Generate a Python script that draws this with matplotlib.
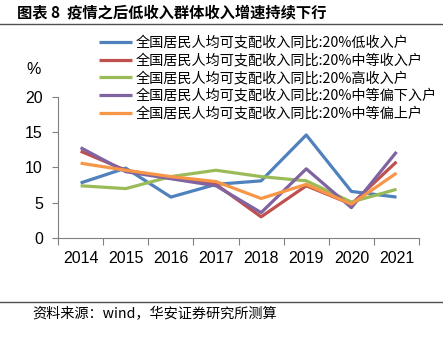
import numpy as np
import matplotlib
matplotlib.use('Agg')
import matplotlib.pyplot as plt
from matplotlib.lines import Line2D

plt.rcParams['font.family'] = ['Liberation Sans', 'Noto Sans CJK SC', 'DejaVu Sans']

years = ['2014', '2015', '2016', '2017', '2018', '2019', '2020', '2021']

# 全国居民人均可支配收入同比, 按五等份分组
low = [7.8, 9.9, 5.8, 7.6, 8.1, 14.6, 6.6, 5.8]
middle = [12.3, 9.6, 8.5, 7.6, 3.0, 7.4, 4.8, 10.8]
high = [7.4, 7.0, 8.7, 9.6, 8.7, 8.1, 5.1, 6.9]
mid_low = [12.8, 9.4, 8.4, 7.4, 3.6, 9.8, 4.3, 12.2]
mid_high = [10.6, 9.6, 8.7, 8.0, 5.6, 7.6, 4.8, 9.2]

labels = ['全国居民人均可支配收入同比:20%低收入户',
          '全国居民人均可支配收入同比:20%中等收入户',
          '全国居民人均可支配收入同比:20%高收入户',
          '全国居民人均可支配收入同比:20%中等偏下入户',
          '全国居民人均可支配收入同比:20%中等偏上户']
colors = ['#4F81BD', '#C0504D', '#9BBB59', '#8064A2', '#F79646']
series = [low, middle, high, mid_low, mid_high]

fig = plt.figure(figsize=(4.43, 3.41), dpi=100)
ax = fig.add_axes([0.131, 0.302, 0.815, 0.414])

x = np.arange(len(years))
handles = []
for vals, c, lab in zip(series, colors, labels):
    ln, = ax.plot(x, vals, color=c, lw=2.3, label=lab, solid_capstyle='butt')
    handles.append(ln)

ax.set_xlim(-0.5, len(years) - 0.5)
ax.set_ylim(0, 20)
ax.set_yticks([0, 5, 10, 15, 20])
ax.set_xticks(x)
ax.set_xticklabels(years)
ax.set_xticks(np.arange(-0.5, len(years)), minor=True)
ax.tick_params(axis='x', which='major', length=0, pad=9, labelsize=11.5)
ax.tick_params(axis='x', which='minor', length=5, color='#808080', width=0.8)
ax.tick_params(axis='y', length=4, color='#808080', width=0.8, pad=7, labelsize=11.5)
for s in ['top', 'right']:
    ax.spines[s].set_visible(False)
for s in ['left', 'bottom']:
    ax.spines[s].set_color('#808080')
    ax.spines[s].set_linewidth(0.8)

fig.text(0.075, 0.795, '%', fontsize=11.5, ha='center', va='center')

leg = fig.legend(handles=handles, loc='upper left', bbox_to_anchor=(0.224, 0.895),
                 frameon=False, fontsize=10.2, handlelength=2.3, handletextpad=0.3,
                 labelspacing=0.26, borderaxespad=0, borderpad=0)
for t in leg.get_texts():
    t.set_family(['Noto Sans CJK SC', 'DejaVu Sans'])

fig.text(0.038, 0.965, '图表 8  疫情之后低收入群体收入增速持续下行', fontsize=11,
         fontweight='bold', ha='left', va='center',
         family=['Noto Sans CJK SC', 'DejaVu Sans'])
fig.add_artist(Line2D([0, 1], [0.930, 0.930], color='#505050', lw=1.0))
fig.add_artist(Line2D([0, 1], [0.115, 0.115], color='#505050', lw=1.0))
fig.text(0.072, 0.080, '资料来源：wind，华安证券研究所测算', fontsize=10.2,
         ha='left', va='center', family=['Noto Sans CJK SC', 'DejaVu Sans'])

fig.savefig('out.png', dpi=100)
